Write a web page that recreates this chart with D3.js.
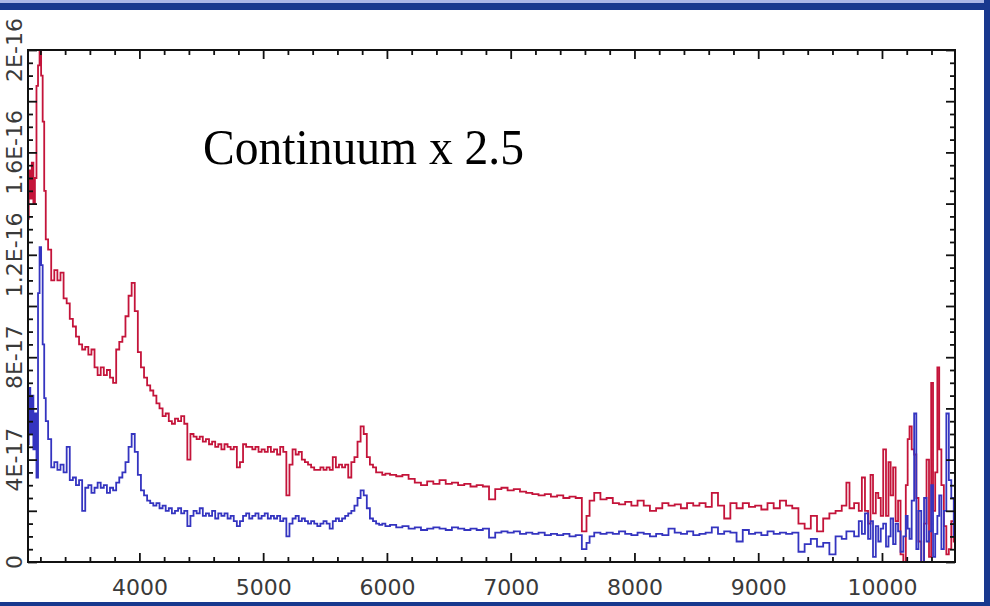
<!DOCTYPE html>
<html><head><meta charset="utf-8">
<script src="https://cdn.jsdelivr.net/npm/d3@7"></script>
<style>html,body{margin:0;padding:0;background:#fff;} svg{display:block;}</style>
</head><body>
<svg id="chart" width="990" height="606"></svg>
<script>
// Wavelength (Angstrom)
const wavelength = [
 3100,3112,3125,3137,3150,3162,3175,3187,3200,3212,3225,3237,3250,3275,3300,3325,3350,3375,3400,3425,
 3450,3475,3500,3525,3550,3575,3600,3625,3650,3675,3700,3725,3750,3775,3800,3825,3850,3875,3900,3925,
 3950,3975,4000,4025,4050,4075,4100,4125,4150,4175,4200,4225,4250,4275,4300,4325,4350,4375,4400,4425,
 4450,4475,4500,4525,4550,4575,4600,4625,4650,4675,4700,4725,4750,4775,4800,4825,4850,4875,4900,4925,
 4950,4975,5000,5025,5050,5075,5100,5125,5150,5175,5200,5225,5250,5275,5300,5325,5350,5375,5400,5425,
 5450,5475,5500,5525,5550,5575,5600,5625,5650,5675,5700,5725,5750,5775,5800,5825,5850,5875,5900,5925,
 5950,5975,6000,6050,6100,6150,6200,6250,6300,6350,6400,6450,6500,6550,6600,6650,6700,6750,6800,6850,
 6900,6950,7000,7050,7100,7150,7200,7250,7300,7350,7400,7450,7500,7550,7600,7625,7650,7700,7750,7800,
 7850,7900,7950,8000,8050,8100,8150,8200,8250,8300,8350,8400,8450,8500,8550,8600,8650,8700,8750,8800,
 8850,8900,8950,9000,9050,9100,9150,9200,9250,9300,9350,9400,9450,9500,9550,9600,9650,9700,9725,9750,
 9800,9825,9850,9875,9900,9915,9940,9960,9980,10000,10020,10045,10060,10080,10100,10120,10140,10160,10185,10200,
 10215,10230,10250,10270,10285,10305,10330,10350,10370,10390,10405,10420,10440,10455,10470,10490,10510,10530,10550,10570,
 10590
];
// Flux, continuum x 2.5 (units of 1E-17)
const fluxRed = [
 13.4,15.3,14.2,15.6,14.0,15.0,18.6,19.4,20.0,19.0,17.2,14.5,12.6,12.2,11.0,11.4,11.0,11.3,10.3,10.1,
 9.5,9.2,8.8,8.5,8.3,8.4,8.1,8.3,7.6,7.3,7.6,7.3,7.5,7.2,7.0,8.3,8.6,8.8,9.6,10.4,
 10.9,9.8,8.2,7.6,7.2,6.9,6.7,6.5,6.2,6.0,5.7,5.8,5.5,5.4,5.6,5.5,5.7,5.4,4.0,5.0,
 4.9,4.8,4.9,4.7,4.8,4.6,4.7,4.5,4.6,4.4,4.6,4.5,4.4,4.5,3.7,3.9,4.6,4.5,4.5,4.4,
 4.5,4.3,4.4,4.3,4.5,4.3,4.4,4.2,4.5,4.3,2.6,3.8,4.4,4.2,4.3,4.0,3.9,3.8,3.7,3.6,
 3.6,3.7,3.6,3.7,3.6,4.1,3.7,3.8,3.7,3.8,3.3,3.9,4.1,4.7,5.3,5.0,4.1,3.8,3.7,3.5,
 3.5,3.4,3.45,3.4,3.35,3.4,3.25,3.1,3.0,3.15,3.05,3.2,3.05,3.1,3.0,3.05,2.95,3.0,2.95,2.45,
 2.85,2.9,2.8,2.85,2.75,2.7,2.65,2.6,2.65,2.55,2.6,2.5,2.55,2.5,1.2,1.8,2.4,2.7,2.45,2.5,
 2.3,2.25,2.35,2.2,2.4,2.2,2.0,2.1,2.3,2.2,2.25,2.1,2.3,2.2,2.3,2.15,2.7,2.2,1.7,2.3,
 2.1,2.3,2.15,2.2,2.05,2.3,2.1,2.4,2.2,2.1,1.5,1.3,1.8,1.2,1.7,1.9,2.0,2.2,3.1,2.1,
 2.3,2.0,3.3,2.0,1.5,3.4,1.9,2.7,2.5,1.8,4.4,1.8,3.9,2.6,3.7,1.6,2.4,0.3,0.0,3.0,
 4.8,5.3,4.4,4.2,2.5,0.8,0.0,1.5,4.0,0.2,7.0,2.0,3.5,7.6,4.4,3.0,1.4,0.3,0.5,1.6,
 0.8
];
const fluxBlue = [
 4.6,6.8,5.0,6.5,4.4,5.8,3.3,10.5,12.3,11.6,8.5,6.4,5.5,4.8,3.7,3.9,3.6,3.8,3.5,4.5,
 3.2,3.3,3.0,3.2,2.0,2.9,3.0,2.7,2.9,3.1,2.9,3.0,2.7,2.9,2.8,3.1,3.3,3.5,3.9,4.5,
 5.0,4.3,3.4,2.8,2.6,2.4,2.3,2.2,2.3,2.1,2.2,2.0,2.1,1.9,2.0,2.1,1.9,2.0,1.4,1.8,
 2.0,1.9,2.1,1.8,1.9,1.8,2.0,1.7,1.9,1.8,1.9,1.7,1.8,1.6,1.4,1.6,1.8,1.9,1.7,1.8,
 1.9,1.7,1.8,1.9,1.7,1.8,1.7,1.8,1.6,1.7,1.0,1.5,1.7,1.8,1.6,1.7,1.6,1.5,1.6,1.5,
 1.4,1.5,1.6,1.5,1.3,1.6,1.7,1.6,1.7,1.8,1.9,2.0,2.2,2.5,2.8,2.6,2.1,1.7,1.6,1.5,
 1.45,1.5,1.4,1.45,1.35,1.4,1.3,1.35,1.25,1.3,1.35,1.3,1.25,1.35,1.3,1.25,1.3,1.25,1.3,0.95,
 1.15,1.2,1.15,1.2,1.1,1.15,1.1,1.15,1.05,1.1,1.05,1.1,1.0,1.05,0.5,0.75,1.0,1.15,1.1,1.15,
 1.1,1.2,1.1,1.05,1.15,1.1,1.0,1.1,1.05,1.3,1.15,1.1,1.2,1.05,1.1,1.15,1.35,1.1,1.2,1.15,
 0.8,1.25,1.1,1.15,1.05,1.2,1.1,1.15,1.1,1.15,0.4,0.7,0.9,0.6,0.75,0.3,1.0,0.9,1.2,1.2,
 1.0,1.6,1.1,1.9,0.9,1.6,0.2,1.4,0.8,1.3,1.5,0.6,1.0,1.7,0.7,1.5,1.2,0.4,1.0,1.8,
 1.3,0.9,2.4,5.8,0.5,2.0,0.0,2.5,0.8,1.2,3.0,0.2,1.1,1.8,2.6,0.5,2.0,5.8,3.2,2.5,
 1.0
];
const xMajorTicks = [4000,5000,6000,7000,8000,9000,10000];
const yLabelValues = [0,4,8,12,16,20];
const yTickLabels = ["0","4E-17","8E-17","1.2E-16","1.6E-16","2E-16"];
const annotation = "Continuum x 2.5";

const svg = d3.select("#chart");
const L = 28, R = 955, T = 50, B = 562;
const x = d3.scaleLinear().domain([3100, 10590]).range([L, R]);
const y = d3.scaleLinear().domain([0, 20]).range([B, T]);

// outer frame bands
svg.append("rect").attr("x",0).attr("y",0).attr("width",990).attr("height",606).attr("fill","#ffffff");
svg.append("rect").attr("x",0).attr("y",0).attr("width",990).attr("height",3).attr("fill","#aab6e6");
svg.append("rect").attr("x",0).attr("y",3).attr("width",990).attr("height",7).attr("fill","#18388e");
svg.append("rect").attr("x",984).attr("y",0).attr("width",6).attr("height",606).attr("fill","#18388e");
svg.append("rect").attr("x",0).attr("y",602).attr("width",990).attr("height",4).attr("fill","#18388e");

const data = wavelength.map((w,i)=>({w, r: fluxRed[i], b: fluxBlue[i]}));
svg.append("clipPath").attr("id","clip").append("rect")
  .attr("x",L).attr("y",T).attr("width",R-L).attr("height",B-T);
const g = svg.append("g").attr("clip-path","url(#clip)");
const lineR = d3.line().x(d=>x(d.w)).y(d=>y(d.r)).curve(d3.curveStep);
const lineB = d3.line().x(d=>x(d.w)).y(d=>y(d.b)).curve(d3.curveStep);
g.append("path").datum(data).attr("d",lineR).attr("fill","none").attr("stroke","#c4143a").attr("stroke-width",1.8);
g.append("path").datum(data).attr("d",lineB).attr("fill","none").attr("stroke","#3434c0").attr("stroke-width",1.8);

// ticks
function styleAxis(sel){
  sel.select(".domain").remove();
  sel.selectAll(".tick line").attr("stroke","#111").attr("stroke-width",1.8);
  sel.selectAll("text").attr("fill","#3a3a3a").style("font-family","'DejaVu Sans', sans-serif").style("font-size","22px");
}
const xMinor = d3.range(3200, 10590, 200).filter(v=>v%1000!==0);
const yMinor = d3.range(0, 20.01, 0.5).filter(v=>Math.abs(v%2)>0.01);
const yMajor = d3.range(0, 20.01, 2);

svg.append("g").attr("transform",`translate(0,${B})`)
  .call(d3.axisBottom(x).tickValues(xMajorTicks).tickSizeInner(-9).tickSizeOuter(0).tickPadding(17).tickFormat(d3.format("d")))
  .call(styleAxis);
svg.append("g").attr("transform",`translate(0,${B})`)
  .call(d3.axisBottom(x).tickValues(xMinor).tickSize(-5).tickFormat(""))
  .call(styleAxis);
svg.append("g").attr("transform",`translate(0,${T})`)
  .call(d3.axisTop(x).tickValues(xMajorTicks).tickSize(-9).tickFormat(""))
  .call(styleAxis);
svg.append("g").attr("transform",`translate(0,${T})`)
  .call(d3.axisTop(x).tickValues(xMinor).tickSize(-5).tickFormat(""))
  .call(styleAxis);
svg.append("g").attr("transform",`translate(${L},0)`)
  .call(d3.axisLeft(y).tickValues(yMajor).tickSize(-9).tickFormat(""))
  .call(styleAxis);
svg.append("g").attr("transform",`translate(${L},0)`)
  .call(d3.axisLeft(y).tickValues(yMinor).tickSize(-5).tickFormat(""))
  .call(styleAxis);
svg.append("g").attr("transform",`translate(${R},0)`)
  .call(d3.axisRight(y).tickValues(yMajor).tickSize(-9).tickFormat(""))
  .call(styleAxis);
svg.append("g").attr("transform",`translate(${R},0)`)
  .call(d3.axisRight(y).tickValues(yMinor).tickSize(-5).tickFormat(""))
  .call(styleAxis);

// y labels (rotated)
svg.append("g").selectAll("text").data(yLabelValues).join("text")
  .attr("transform", (d)=>`translate(22,${y(d)}) rotate(-90)`)
  .attr("text-anchor","middle")
  .attr("fill","#3a3a3a")
  .style("font-family","'DejaVu Sans', sans-serif").style("font-size","22px")
  .text((d,i)=>yTickLabels[i]);

// frame
svg.append("rect").attr("x",L).attr("y",T).attr("width",R-L).attr("height",B-T)
  .attr("fill","none").attr("stroke","#111").attr("stroke-width",2);

// annotation
svg.append("text").attr("x",203).attr("y",164)
  .attr("textLength",321).attr("lengthAdjust","spacingAndGlyphs")
  .style("font-family","'Liberation Serif','Times New Roman',serif").style("font-size","50px")
  .attr("fill","#000").text(annotation);
</script>
</body></html>
